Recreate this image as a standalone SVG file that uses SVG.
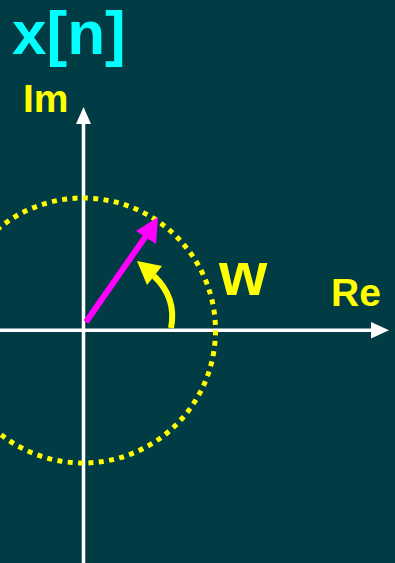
<svg xmlns="http://www.w3.org/2000/svg" width="395" height="563" viewBox="0 0 395 563">
<style>
.lbl{font-family:"Liberation Sans",Arial,sans-serif;font-weight:bold}
.axis{stroke:#ffffff;stroke-width:3.5;fill:none}
</style>
<rect width="395" height="563" fill="#013C45"/>
<g id="connectors">
<line class="axis" x1="83.5" y1="563" x2="83.5" y2="122"/>
<polygon points="83.5,107 76,124 91,124" fill="#ffffff"/>
<line class="axis" x1="0" y1="330.3" x2="374" y2="330.3"/>
<polygon points="389,330.3 371,322 371,338.6" fill="#ffffff"/>
</g>
<g id="circle">
<circle cx="83" cy="330.5" r="132.5" fill="none" stroke="#ffff00" stroke-width="5" stroke-dasharray="5 5.4"/>
</g>
<g id="phasor">
<line x1="86" y1="322" x2="148" y2="233" stroke="#ff00ff" stroke-width="6"/>
<polygon points="158,217 136,231 156,244" fill="#ff00ff"/>
</g>
<g id="angle">
<path d="M171,328 Q177,298 154,276" fill="none" stroke="#ffff00" stroke-width="6"/>
<polygon points="137,261 162,266 147,285" fill="#ffff00"/>
</g>
<g id="labels">
<text class="lbl" x="12" y="54" font-size="62" fill="#00ffff">x[n]</text>
<text class="lbl" x="23" y="112" font-size="39" fill="#ffff00">Im</text>
<text class="lbl" x="331" y="306" font-size="39" fill="#ffff00">Re</text>
<text class="lbl" x="219" y="295" font-size="62" fill="#ffff00">w</text>
</g>
</svg>
